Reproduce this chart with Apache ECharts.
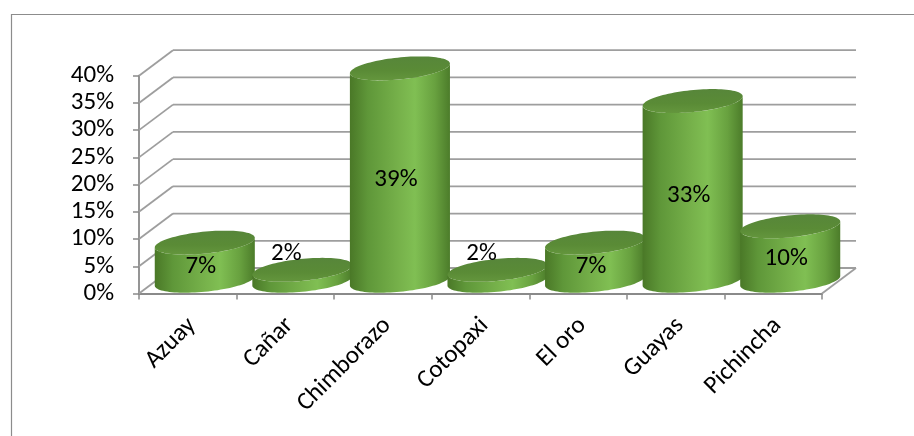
<!DOCTYPE html>
<html>
<head>
<meta charset="utf-8">
<title>Distribución por provincia</title>
<script src="https://cdn.jsdelivr.net/npm/echarts@6/dist/echarts.min.js"></script>
<style>
  html, body { margin: 0; padding: 0; background: #ffffff; }
  #chart { width: 914px; height: 436px; }
</style>
</head>
<body>
<div id="chart"></div>
<script>
// Provinces and their share of the total
const categories = ['Azuay', 'Cañar', 'Chimborazo', 'Cotopaxi', 'El oro', 'Guayas', 'Pichincha'];
const shares = [0.07, 0.02, 0.39, 0.02, 0.07, 0.33, 0.10];
// Value-axis ticks (also used for the back-wall and side-wall grid lines)
const yTicks = [0, 0.05, 0.10, 0.15, 0.20, 0.25, 0.30, 0.35, 0.40];

// Oblique depth of the 3-D box (pixels)
const DEPTH_X = 34;
const DEPTH_Y = -25.5;

const FONT = "Carlito, Calibri, Lato, 'Open Sans', sans-serif";
const FONT_SIZE = 25;
const GRID_COLOR = '#9e9e9e';
const AXIS_COLOR = '#8a8a8a';

const pct = v => Math.round(v * 100) + '%';

const chart = echarts.init(document.getElementById('chart'), null, { renderer: 'canvas' });

// Walls and floor of the 3-D box, one set of lines per tick value
function renderFrame(params, api) {
  const cs = params.coordSys;
  const v = api.value(0);
  const y = api.coord([0, v])[1];
  const left = cs.x, right = cs.x + cs.width;
  const style = { stroke: GRID_COLOR, lineWidth: 1.8, fill: null };
  const children = [
    { type: 'line', shape: { x1: left, y1: y, x2: left + DEPTH_X, y2: y + DEPTH_Y }, style },
    { type: 'line', shape: { x1: left + DEPTH_X, y1: y + DEPTH_Y, x2: right + DEPTH_X, y2: y + DEPTH_Y }, style }
  ];
  if (v === 0) {
    children.push({ type: 'line', shape: { x1: right, y1: y, x2: right + DEPTH_X, y2: y + DEPTH_Y }, style });
  }
  return { type: 'group', children };
}

// Ellipse point of a cylinder cap seen in oblique projection
function capPoint(cx, cy, R, a, b, t) {
  return [cx + R * Math.cos(t) + a * Math.sin(t), cy - b * Math.sin(t)];
}

function renderCylinder(params, api) {
  const i = api.value(0);
  const v = api.value(1);
  const band = api.size([1, 0])[0];
  const base = api.coord([i, 0]);
  const top = api.coord([i, v]);
  const cx = base[0] + DEPTH_X / 2;
  const cyBase = base[1] + DEPTH_Y / 2;
  const cyTop = top[1] + DEPTH_Y / 2;
  const R = band * 0.47, a = band * 0.205, b = band * 0.123;
  const t0 = Math.atan2(a, R);
  const N = 48;

  const side = [];
  for (let k = 0; k <= N; k++) {
    const t = Math.PI + t0 + Math.PI * k / N;
    side.push(capPoint(cx, cyBase, R, a, b, t));
  }
  for (let k = N; k >= 0; k--) {
    const t = Math.PI + t0 + Math.PI * k / N;
    side.push(capPoint(cx, cyTop, R, a, b, t));
  }
  const cap = [];
  for (let k = 0; k < 2 * N; k++) {
    cap.push(capPoint(cx, cyTop, R, a, b, Math.PI * k / N));
  }

  const sideFill = new echarts.graphic.LinearGradient(0, 0, 1, 0, [
    { offset: 0, color: '#4a7827' },
    { offset: 0.18, color: '#5f9739' },
    { offset: 0.5, color: '#77b24b' },
    { offset: 0.65, color: '#80bf53' },
    { offset: 0.85, color: '#68a13f' },
    { offset: 1, color: '#4c7c2a' }
  ]);
  const capFill = new echarts.graphic.LinearGradient(0, 0, 0, 1, [
    { offset: 0, color: '#57863a' },
    { offset: 0.6, color: '#5a8b36' },
    { offset: 1, color: '#64963d' }
  ]);

  const inside = v >= 0.05;
  const label = inside
    ? { x: cx - 4, y: (cyTop + cyBase) / 2 + 5 }
    : { x: cx - 16, y: cyTop - 16 };

  return {
    type: 'group',
    children: [
      { type: 'polygon', shape: { points: side }, style: { fill: sideFill } },
      { type: 'polygon', shape: { points: cap }, style: { fill: capFill } },
      {
        type: 'text',
        x: label.x, y: label.y,
        style: {
          text: pct(v), fill: '#000000', font: FONT_SIZE + 'px ' + FONT,
          align: 'center', verticalAlign: 'middle'
        },
        z2: 10
      }
    ]
  };
}

chart.setOption({
  animation: false,
  backgroundColor: '#ffffff',
  graphic: [{
    type: 'rect',
    shape: { x: 11.5, y: 14.5, width: 1200, height: 1000 },
    style: { fill: null, stroke: '#8c8c8c', lineWidth: 1.2 },
    silent: true
  }],
  grid: { left: 139, right: 92, top: 75.7, bottom: 142.5 },
  xAxis: {
    type: 'category',
    data: categories,
    axisLine: { show: true, lineStyle: { color: AXIS_COLOR, width: 1.8 } },
    axisTick: { show: true, length: 6, lineStyle: { color: AXIS_COLOR, width: 1.5 } },
    axisLabel: {
      rotate: 45, margin: 24, color: '#000000', fontSize: FONT_SIZE, fontFamily: FONT,
      verticalAlign: 'top', lineHeight: 12
    },
    splitLine: { show: false }
  },
  yAxis: {
    type: 'value',
    min: 0, max: 0.4, interval: 0.05,
    axisLine: { show: true, lineStyle: { color: AXIS_COLOR, width: 1.8 } },
    axisTick: { show: true, length: 6, lineStyle: { color: AXIS_COLOR, width: 1.5 } },
    axisLabel: { margin: 25, color: '#000000', fontSize: FONT_SIZE, fontFamily: FONT, formatter: pct },
    splitLine: { show: false }
  },
  series: [
    {
      type: 'custom',
      name: 'frame',
      renderItem: renderFrame,
      data: yTicks.map(v => [v]),
      encode: { y: 0 },
      silent: true,
      z: 1
    },
    {
      type: 'custom',
      name: 'shares',
      renderItem: renderCylinder,
      data: shares.map((v, i) => [i, v]),
      encode: { x: 0, y: 1 },
      z: 3
    }
  ]
});
</script>
</body>
</html>
